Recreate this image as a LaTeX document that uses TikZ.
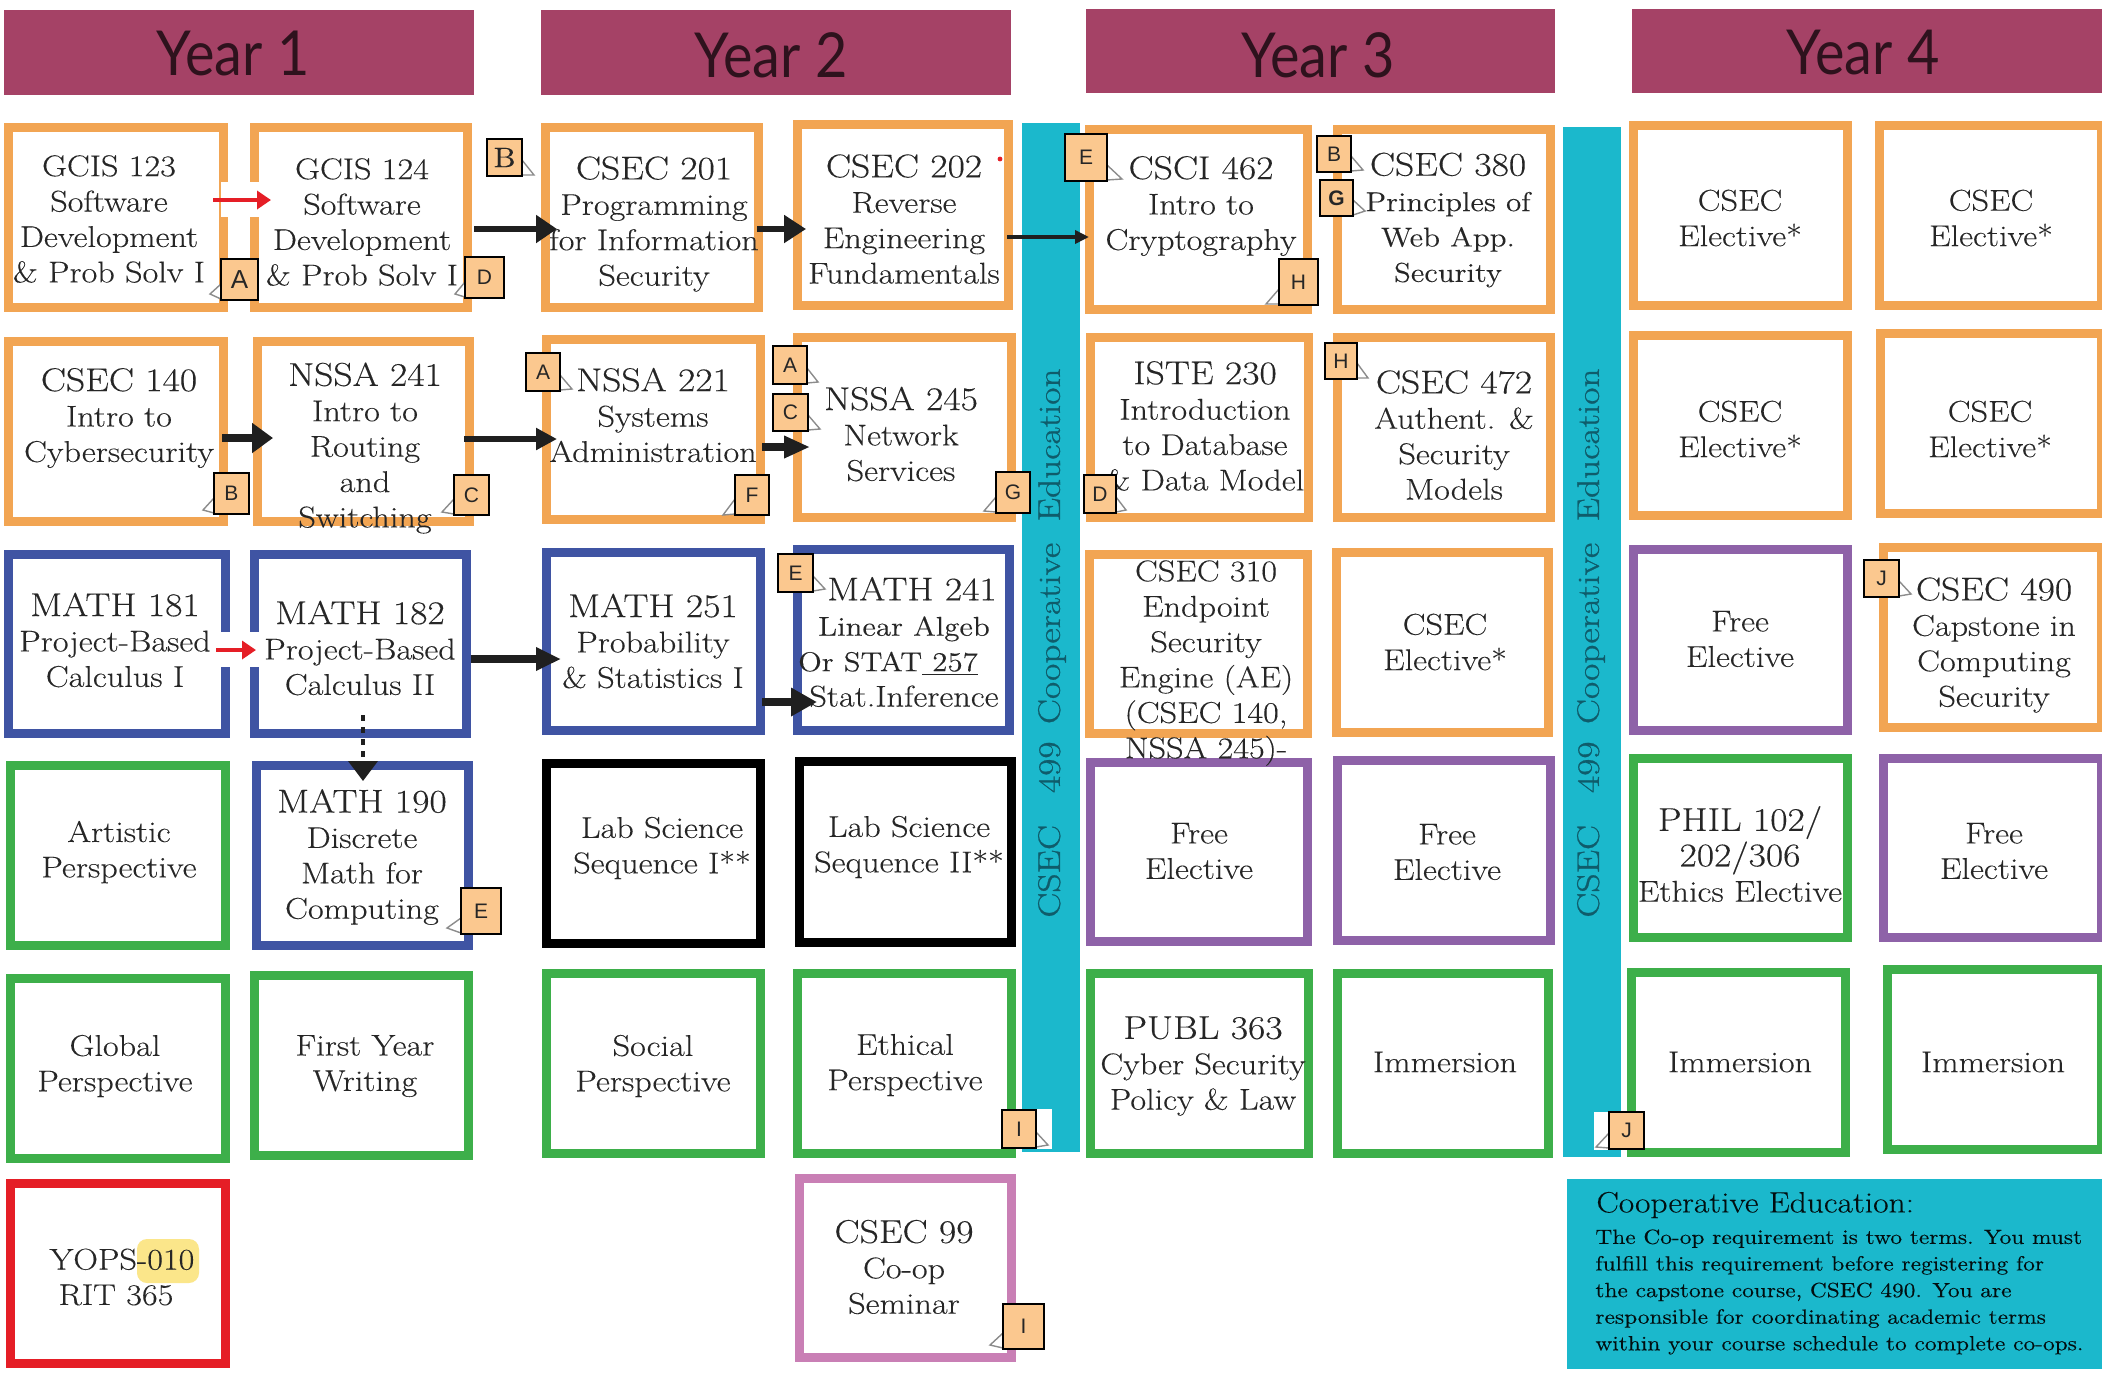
\documentclass[tikz,border=0pt]{standalone}
\usepackage{fontspec}
\usetikzlibrary{arrows.meta}
\setmainfont{Latin Modern Roman}[FakeStretch=1.14,FakeBold=0.2]
\newfontfamily\barfont{Latin Modern Roman}[FakeStretch=1.2,FakeBold=0.9]
\newfontfamily\hfont{Lato}[FakeStretch=0.9]
\newfontfamily\stfont{Liberation Sans}
\definecolor{corange}{HTML}{F2A553}
\definecolor{cblue}{HTML}{3F54A3}
\definecolor{cgreen}{HTML}{3DAF4A}
\definecolor{cpurple}{HTML}{8E62A8}
\definecolor{cred}{HTML}{E51E26}
\definecolor{cpink}{HTML}{C97FB5}
\definecolor{cteal}{HTML}{1BB8CC}
\definecolor{chead}{HTML}{A54266}
\definecolor{cnote}{HTML}{FBC88F}
\definecolor{ctext}{HTML}{262626}
\definecolor{cdteal}{HTML}{0F5C6B}
\definecolor{chigh}{HTML}{FBE68A}
\newcommand\hd{\fontsize{16.5}{20}\selectfont}
\newcommand\sm{\fontsize{13.6}{17}\selectfont}
\tikzset{
 box/.style={rectangle,line width=4.5pt,fill=white,inner sep=0pt},
 lbl/.style={inner sep=0pt,align=center,text=ctext,font=\fontsize{15}{17.7}\selectfont},
 yearbox/.style={rectangle,fill=chead,inner sep=0pt},
 yearlbl/.style={inner sep=0pt,text=black!72!chead,font=\hfont\fontsize{31}{36}\selectfont},
 barbox/.style={rectangle,fill=cteal,inner sep=0pt},
 barlbl/.style={inner sep=0pt,rotate=90,text=cdteal,font=\barfont\fontsize{15.6}{20}\selectfont},
 note/.style={rectangle,fill=cnote,draw=black,line width=1.2pt,inner sep=0pt,text=ctext,font=\stfont\fontsize{10.5}{12}\selectfont},
 notetail/.style={fill=white,draw=black!45,line width=.7pt},
 blackarr/.style={draw=black!88,line width=#1},
 redarr/.style={draw=cred,line width=2pt,-{Triangle[length=7pt,width=9pt]}},
 gap/.style={rectangle,fill=white,inner sep=0pt}
}
\newcommand\bx[6]{\node[box,draw=#6,minimum width={(#4-#2-9)*0.5pt},minimum height={(#5-#3-9)*0.5pt}] (#1) at ({(#2+#4)/2},{(#3+#5)/2}) {};}
\newcommand\ff[6]{\node[#6,minimum width={(#4-#2)*0.5pt},minimum height={(#5-#3)*0.5pt}] (#1) at ({(#2+#4)/2},{(#3+#5)/2}) {};}
\newcommand\tx[4]{\node[lbl] (#1) at (#2,{#3+2}) {#4};}
\newcommand\stL[8]{\fill[notetail] (#2,#5-16) -- (#7,#8) -- (#2,#5-1) -- cycle;
 \node[note,minimum width={(#4-#2)*0.5pt},minimum height={(#5-#3)*0.5pt}] (#1) at ({(#2+#4)/2},{(#3+#5)/2}) {#6};}
\newcommand\stR[8]{\fill[notetail] (#4,#5-16) -- (#7,#8) -- (#4,#5-1) -- cycle;
 \node[note,minimum width={(#4-#2)*0.5pt},minimum height={(#5-#3)*0.5pt}] (#1) at ({(#2+#4)/2},{(#3+#5)/2}) {#6};}
\begin{document}
\begin{tikzpicture}[x=0.5pt,y=-0.5pt]
\useasboundingbox (0,0) rectangle (2102,1372);
% headings
\node[yearbox,minimum width=235pt,minimum height=42.5pt] (y1) at (239,52.5) {};
\node[yearbox,minimum width=235pt,minimum height=42.5pt] (y2) at (776,52.5) {};
\node[yearbox,minimum width=234.5pt,minimum height=42pt] (y3) at (1320.5,51) {};
\node[yearbox,minimum width=235.5pt,minimum height=42pt] (y4) at (1867,51) {};
\node[yearlbl] (y1t) at (233,53) {Year 1};
\node[yearlbl] (y2t) at (771,55) {Year 2};
\node[yearlbl] (y3t) at (1318,55) {Year 3};
\node[yearlbl] (y4t) at (1863,53) {Year 4};
% co-op bars
\ff{bar1}{1022}{123}{1080}{1152}{barbox}
\ff{bar2}{1563}{127}{1621}{1157}{barbox}
% boxes
\bx{a1}{4}{123}{228}{312}{corange}
\bx{a2}{250}{123}{472}{312}{corange}
\bx{a3}{541}{123}{763}{312}{corange}
\bx{a4}{793}{120}{1013}{310}{corange}
\bx{b1}{4}{337}{228}{526}{corange}
\bx{b2}{253}{337}{474}{526}{corange}
\bx{b3}{542}{335}{765}{524}{corange}
\bx{b4}{793}{333}{1016}{522}{corange}
\bx{c1}{4}{550}{230}{738}{cblue}
\bx{c2}{250}{550}{471}{738}{cblue}
\bx{c3}{542}{548}{765}{735}{cblue}
\bx{c4}{793}{545}{1014}{735}{cblue}
\bx{d1}{6}{761}{230}{950}{cgreen}
\bx{d2}{252}{761}{473}{950}{cblue}
\bx{d3}{542}{759}{765}{948}{black}
\bx{d4}{795}{757}{1016}{947}{black}
\bx{e1}{6}{974}{230}{1163}{cgreen}
\bx{e2}{250}{971}{473}{1160}{cgreen}
\bx{e3}{542}{969}{765}{1158}{cgreen}
\bx{e4}{793}{969}{1016}{1158}{cgreen}
\bx{f1}{6}{1179}{230}{1368}{cred}
\bx{f4}{795}{1174}{1016}{1362}{cpink}
\bx{g1}{1085}{125}{1312}{314}{corange}
\bx{g2}{1333}{125}{1555}{314}{corange}
\bx{h1}{1086}{333}{1313}{522}{corange}
\bx{h2}{1333}{333}{1555}{522}{corange}
\bx{i1}{1085}{550}{1312}{738}{corange}
\bx{i2}{1332}{548}{1553}{737}{corange}
\bx{j1}{1086}{758}{1312}{946}{cpurple}
\bx{j2}{1333}{756}{1555}{945}{cpurple}
\bx{k1}{1086}{969}{1313}{1158}{cgreen}
\bx{k2}{1333}{969}{1553}{1158}{cgreen}
\bx{l1}{1629}{121}{1852}{310}{corange}
\bx{l2}{1875}{121}{2106}{310}{corange}
\bx{m1}{1629}{331}{1852}{520}{corange}
\bx{m2}{1876}{329}{2106}{518}{corange}
\bx{n1}{1629}{545}{1852}{735}{cpurple}
\bx{n2}{1879}{543}{2106}{732}{corange}
\bx{o1}{1629}{754}{1852}{942}{cgreen}
\bx{o2}{1879}{754}{2106}{942}{cpurple}
\bx{p1}{1627}{968}{1850}{1157}{cgreen}
\bx{p2}{1883}{965}{2106}{1154}{cgreen}
% co-op note
\ff{coop}{1567}{1179}{2102}{1369}{barbox}
% white patches
\ff{gap1}{221}{182}{260}{217}{gap}
\ff{gap2}{216}{632}{262}{667}{gap}
\ff{gap3}{1034}{1109}{1052}{1149}{gap}
\ff{gap4}{1594}{1112}{1612}{1150}{gap}
% highlight
\node[rectangle,rounded corners=5pt,fill=chigh,minimum width=31pt,minimum height=22pt,inner sep=0pt] (hl) at (168,1261) {};
% labels
\tx{a1t}{109}{217}{GCIS 123\\Software\\Development\\\& Prob Solv I}
\tx{a2t}{362}{220}{GCIS 124\\Software\\Development\\\& Prob Solv I}
\tx{a3t}{654}{222}{{\hd CSEC 201}\\Programming\\for Information\\Security}
\tx{a4t}{904}{217}{{\hd CSEC 202}\\Reverse\\Engineering\\Fundamentals}
\tx{b1t}{119}{416}{{\hd CSEC 140}\\Intro to\\Cybersecurity}
\tx{b2t}{365}{446}{{\hd NSSA 241}\\Intro to\\Routing\\and\\Switching}
\tx{b3t}{653}{413}{{\hd NSSA 221}\\Systems\\Administration}
\tx{b4t}{901}{432}{{\hd NSSA 245}\\Network\\Services}
\tx{c1t}{115}{638}{{\hd MATH 181}\\Project-Based\\Calculus I}
\tx{c2t}{360}{646}{{\hd MATH 182}\\Project-Based\\Calculus II}
\tx{c3t}{653}{639}{{\hd MATH 251}\\Probability\\\& Statistics I}
\tx{c4t}{904}{640}{\hspace*{8pt}{\hd MATH 241}\\{\sm Linear Algeb}\\\hspace*{-16pt}{\sm Or STAT\underline{ 257}}\\Stat.Inference}
\tx{d1t}{119}{850}{Artistic\\Perspective}
\tx{d2t}{362}{855}{{\hd MATH 190}\\Discrete\\Math for\\Computing}
\tx{d3t}{662}{846}{Lab Science\\Sequence I**}
\tx{d4t}{909}{845}{Lab Science\\Sequence II**}
\tx{e1t}{115}{1064}{Global\\Perspective}
\tx{e2t}{365}{1064}{First Year\\Writing}
\tx{e3t}{653}{1064}{Social\\Perspective}
\tx{e4t}{905}{1063}{Ethical\\Perspective}
\tx{f1t}{122}{1275}{YOPS-010\\\hspace*{-6pt}RIT 365}
\tx{f4t}{904}{1265}{{\hd CSEC 99}\\Co-op\\Seminar}
\tx{g1t}{1201}{204}{{\hd CSCI 462}\\Intro to\\Cryptography}
\tx{g2t}{1448}{218}{{\hd CSEC 380}\\{\sm Principles of}\\{\sm Web App.}\\{\sm Security}}
\tx{h1t}{1205}{424}{{\hd ISTE 230}\\Introduction\\to Database\\\& Data Model}
\tx{h2t}{1454}{433}{{\hd CSEC 472}\\Authent. \&\\Security\\Models}
\tx{i1t}{1206}{661}{CSEC 310\\Endpoint\\Security\\Engine (AE)\\(CSEC 140,\\NSSA 245)-}
\tx{i2t}{1445}{640}{CSEC\\Elective*}
\tx{j1t}{1199}{849}{Free\\Elective}
\tx{j2t}{1447}{850}{Free\\Elective}
\tx{k1t}{1203}{1064}{{\hd PUBL 363}\\Cyber Security\\Policy \& Law}
\tx{k2t}{1445}{1060}{Immersion}
\tx{l1t}{1740}{216}{CSEC\\Elective*}
\tx{l2t}{1991}{216}{CSEC\\Elective*}
\tx{m1t}{1740}{427}{CSEC\\Elective*}
\tx{m2t}{1990}{427}{CSEC\\Elective*}
\tx{n1t}{1740}{637}{Free\\Elective}
\tx{n2t}{1994}{643}{{\hd CSEC 490}\\Capstone in\\Computing\\Security}
\tx{o1t}{1740}{852}{{\hd PHIL 102/}\\{\hd 202/306}\\Ethics Elective}
\tx{o2t}{1994}{849}{Free\\Elective}
\tx{p1t}{1740}{1060}{Immersion}
\tx{p2t}{1993}{1060}{Immersion}
% bar labels
\node[barlbl] (bar1t) at (1052,643) {CSEC\hspace{16pt}499\hspace{8.7pt}Cooperative\hspace{10.7pt}Education};
\node[barlbl] (bar2t) at (1591,643) {CSEC\hspace{16pt}499\hspace{8.7pt}Cooperative\hspace{10.7pt}Education};
% co-op text
\node[inner sep=0pt,anchor=west,text=black!85!cdteal,font=\fontsize{14.7}{18}\selectfont] (coopt) at (1596,1205) {Cooperative Education:};
\node[inner sep=0pt,anchor=north west,align=left,text=black!85!cdteal,font=\fontsize{10.25}{13.3}\selectfont] (coopb) at (1595,1229) {The Co-op requirement is two terms. You must\\fulfill this requirement before registering for\\the capstone course, CSEC 490. You are\\responsible for coordinating academic terms\\within your course schedule to complete co-ops.};
% arrows
\draw[redarr] ([shift={(-15,-17.5)}]a1.east) -- ([shift={(21,-17.5)}]a2.west);
\draw[redarr] ([shift={(-14,6)}]c1.east) -- ([shift={(6,6)}]c2.west);
\draw[blackarr=2.6pt,-{Triangle[length=10.5pt,width=13.5pt]}] ([shift={(2,11.5)}]a2.east) -- ([shift={(16,11.5)}]a3.west);
\draw[blackarr=2.6pt,-{Triangle[length=11pt,width=13.5pt]}] ([shift={(-6,11.5)}]a3.east) -- ([shift={(13,14)}]a4.west);
\draw[blackarr=1.8pt,-{Triangle[length=7pt,width=6.5pt]}] ([shift={(-6,22)}]a4.east) -- ([shift={(4,17.5)}]g1.west);
\draw[blackarr=3.8pt,-{Triangle[length=10.5pt,width=14.5pt]}] ([shift={(-6,6.5)}]b1.east) -- ([shift={(20,6.5)}]b2.west);
\draw[blackarr=2.6pt,-{Triangle[length=10.5pt,width=10.5pt]}] ([shift={(-10,7.5)}]b2.east) -- ([shift={(15,9.5)}]b3.west);
\draw[blackarr=4.2pt,-{Triangle[length=13pt,width=10.5pt]}] ([shift={(-3,17.5)}]b3.east) -- ([shift={(17,19.5)}]b4.west);
\draw[blackarr=3.8pt,-{Triangle[length=12.5pt,width=11pt]}] ([shift={(0,15)}]c2.east) -- ([shift={(19,17.5)}]c3.west);
\draw[blackarr=4pt,-{Triangle[length=13pt,width=13.5pt]}] ([shift={(-3,60.5)}]c3.east) -- ([shift={(24,62)}]c4.west);
\draw[blackarr=2pt,dashed,-{Triangle[length=10pt,width=14.5pt]}] ([shift={(2.5,-23)}]c2.south) -- ([shift={(0.5,20)}]d2.north);
% red dot
\fill[cred] (1000,159) circle (1.2pt);
% sticky notes
\stL{na}{221}{259}{258}{300}{\fontsize{13}{14}\selectfont A}{210}{294}
\stL{nd}{465}{257}{504}{298}{D}{455}{294}
\stR{nbt}{487}{139}{522}{176}{\rmfamily\fontsize{14}{15}\selectfont B}{534}{175}
\stL{nb}{214}{473}{249}{514}{B}{203}{510}
\stL{nc}{454}{475}{489}{515}{C}{442}{512}
\stL{nf}{735}{475}{769}{515}{F}{723}{515}
\stL{ng}{996}{472}{1030}{513}{G}{984}{511}
\stR{naa}{526}{353}{560}{391}{A}{572}{389}
\stR{nab}{773}{346}{807}{384}{A}{818}{382}
\stR{nca}{773}{394}{808}{431}{C}{820}{429}
\stR{ne}{1065}{134}{1107}{181}{E}{1122}{179}
\stL{nh}{1279}{259}{1318}{305}{H}{1266}{304}
\stR{nbb}{1317}{136}{1351}{172}{B}{1363}{170}
\stR{ngb}{1320}{180}{1353}{216}{\bfseries G}{1365}{211}
\stR{nhb}{1325}{343}{1357}{379}{H}{1368}{378}
\stR{ndb}{1084}{475}{1116}{513}{D}{1126}{510}
\stR{nec}{778}{554}{813}{592}{E}{825}{589}
\stL{ned}{461}{888}{501}{934}{E}{447}{928}
\stR{ni}{1002}{1110}{1036}{1148}{I}{1048}{1145}
\stL{nib}{1003}{1304}{1044}{1349}{I}{990}{1345}
\stR{nj}{1864}{560}{1899}{597}{J}{1911}{594}
\stL{njb}{1609}{1112}{1644}{1149}{J}{1596}{1147}
\end{tikzpicture}
\end{document}
